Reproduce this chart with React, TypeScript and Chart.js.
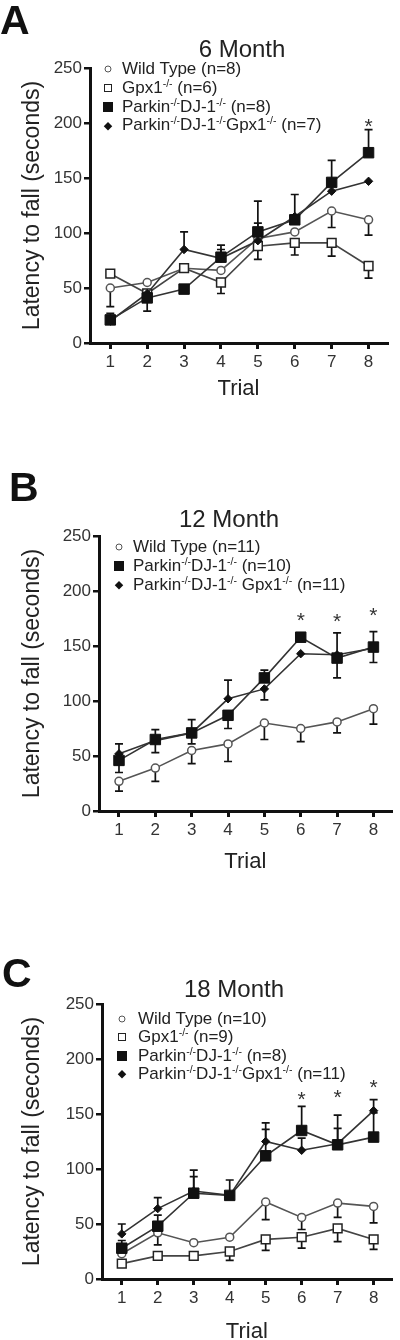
import React, { useEffect, useRef } from "react";
import { Chart, registerables } from "chart.js";

Chart.register(...registerables);

const FONT = "'Liberation Sans', Arial, Helvetica, sans-serif";

// ---------- shared axes ----------
const trials = [1, 2, 3, 4, 5, 6, 7, 8];
const yTickValues = [0, 50, 100, 150, 200, 250];

// ---------- Panel A: 6 Month ----------
const a_labels = [
  "Wild Type (n=8)",
  "Gpx1^-/-^ (n=6)",
  "Parkin^-/-^DJ-1^-/-^ (n=8)",
  "Parkin^-/-^DJ-1^-/-^Gpx1^-/-^ (n=7)",
];
const a_wt = [50, 55, 68, 66, 95, 101, 120, 112];
const a_wtErr = [-17, 0, 0, 0, 14, 0, -15, -14];
const a_gpx = [63, 45, 68, 55, 88, 91, 91, 70];
const a_gpxErr = [0, 0, 0, -10, -12, -11, -12, -11];
const a_pd = [21, 41, 49, 78, 101, 112, 146, 173];
const a_pdErr = [6, -12, 0, 11, 28, 23, 20, 21];
const a_pdg = [20, 45, 85, 77, 93, 115, 138, 147];
const a_pdgErr = [5, 0, 16, 8, 0, 0, 0, 0];
const a_stars = [null, null, null, null, null, null, null, 201];

// ---------- Panel B: 12 Month ----------
const b_labels = [
  "Wild Type (n=11)",
  "Parkin^-/-^DJ-1^-/-^ (n=10)",
  "Parkin^-/-^DJ-1^-/-^ Gpx1^-/-^ (n=11)",
];
const b_wt = [27, 39, 55, 61, 80, 75, 81, 93];
const b_wtErr = [-9, -12, -12, -16, -15, -12, -10, -14];
const b_pd = [46, 65, 71, 87, 121, 158, 139, 149];
const b_pdErr = [-11, -12, -10, -12, 7, 0, -18, -14];
const b_pdg = [52, 64, 71, 102, 111, 143, 142, 148];
const b_pdgErr = [9, 10, 12, 17, -10, 0, 20, 15];
const b_stars = [null, null, null, null, null, 177, 176, 182];

// ---------- Panel C: 18 Month ----------
const c_labels = [
  "Wild Type (n=10)",
  "Gpx1^-/-^ (n=9)",
  "Parkin^-/-^DJ-1^-/-^ (n=8)",
  "Parkin^-/-^DJ-1^-/-^Gpx1^-/-^ (n=11)",
];
const c_wt = [23, 42, 33, 38, 70, 56, 69, 66];
const c_wtErr = [0, -11, 0, 0, -16, -11, -13, -15];
const c_gpx = [14, 21, 21, 25, 36, 38, 46, 36];
const c_gpxErr = [0, 0, 0, -8, -10, -10, -12, -9];
const c_pd = [28, 48, 78, 76, 112, 135, 122, 129];
const c_pdErr = [7, 10, 15, 0, 24, 22, 27, 22];
const c_pdg = [41, 64, 80, 76, 125, 117, 123, 153];
const c_pdgErr = [9, 10, 19, 14, 17, 11, 14, 10];
const c_stars = [null, null, null, null, null, 167, 169, 178];

type Kind = "wt" | "gpx" | "pd" | "pdg";
type Series = { label: string; values: number[]; errs: number[]; kind: Kind };

const STYLES: Record<Kind, any> = {
  wt: {
    pointStyle: "circle",
    pointRadius: 4,
    pointBackgroundColor: "#ffffff",
    pointBorderColor: "#555555",
    pointBorderWidth: 1.5,
    borderColor: "#555555",
    order: 3,
  },
  gpx: {
    pointStyle: "rect",
    pointRadius: 6.2,
    pointBackgroundColor: "#ffffff",
    pointBorderColor: "#222222",
    pointBorderWidth: 1.5,
    borderColor: "#444444",
    order: 2,
  },
  pd: {
    pointStyle: "rect",
    pointRadius: 7.4,
    pointBackgroundColor: "#111111",
    pointBorderColor: "#111111",
    pointBorderWidth: 1,
    borderColor: "#333333",
    order: 0,
  },
  pdg: {
    pointStyle: "rectRot",
    pointRadius: 4.2,
    pointBackgroundColor: "#111111",
    pointBorderColor: "#111111",
    pointBorderWidth: 1,
    borderColor: "#333333",
    order: 1,
  },
};

type PanelCfg = {
  letter: string;
  title: string;
  series: Series[];
  stars: (number | null)[];
  canvasTop: number;
  canvasH: number;
  areaTop: number;
  areaBottom: number;
  areaLeft: number;
  areaRight: number;
  xTitleCenter: number;
  letterLeft: number;
  letterCapTop: number;
  titleCx: number;
  titleCapTop: number;
  legendTop: number;
  legendRowH: number;
  legendMarkerX: number;
  legendTextX: number;
};

const panels: PanelCfg[] = [
  {
    letter: "A",
    title: "6 Month",
    series: [
      { label: a_labels[0], values: a_wt, errs: a_wtErr, kind: "wt" },
      { label: a_labels[1], values: a_gpx, errs: a_gpxErr, kind: "gpx" },
      { label: a_labels[2], values: a_pd, errs: a_pdErr, kind: "pd" },
      { label: a_labels[3], values: a_pdg, errs: a_pdgErr, kind: "pdg" },
    ],
    stars: a_stars,
    canvasTop: 0,
    canvasH: 450,
    areaTop: 68,
    areaBottom: 343,
    areaLeft: 90,
    areaRight: 387,
    xTitleCenter: 389,
    letterLeft: 0,
    letterCapTop: 5,
    titleCx: 242,
    titleCapTop: 40,
    legendTop: 60,
    legendRowH: 18.8,
    legendMarkerX: 108,
    legendTextX: 122,
  },
  {
    letter: "B",
    title: "12 Month",
    series: [
      { label: b_labels[0], values: b_wt, errs: b_wtErr, kind: "wt" },
      { label: b_labels[1], values: b_pd, errs: b_pdErr, kind: "pd" },
      { label: b_labels[2], values: b_pdg, errs: b_pdgErr, kind: "pdg" },
    ],
    stars: b_stars,
    canvasTop: 450,
    canvasH: 450,
    areaTop: 536,
    areaBottom: 811,
    areaLeft: 99,
    areaRight: 397,
    xTitleCenter: 862,
    letterLeft: 9,
    letterCapTop: 472,
    titleCx: 229,
    titleCapTop: 510,
    legendTop: 537,
    legendRowH: 19,
    legendMarkerX: 119,
    legendTextX: 133,
  },
  {
    letter: "C",
    title: "18 Month",
    series: [
      { label: c_labels[0], values: c_wt, errs: c_wtErr, kind: "wt" },
      { label: c_labels[1], values: c_gpx, errs: c_gpxErr, kind: "gpx" },
      { label: c_labels[2], values: c_pd, errs: c_pdErr, kind: "pd" },
      { label: c_labels[3], values: c_pdg, errs: c_pdgErr, kind: "pdg" },
    ],
    stars: c_stars,
    canvasTop: 900,
    canvasH: 460,
    areaTop: 1004,
    areaBottom: 1279,
    areaLeft: 102,
    areaRight: 400,
    xTitleCenter: 1332,
    letterLeft: 2,
    letterCapTop: 958,
    titleCx: 234,
    titleCapTop: 980,
    legendTop: 1010,
    legendRowH: 18.3,
    legendMarkerX: 122,
    legendTextX: 138,
  },
];

const errorBarPlugin = {
  id: "errbars",
  beforeDatasetsDraw(chart: any) {
    const { ctx } = chart;
    const xs = chart.scales.x;
    const ys = chart.scales.y;
    chart.data.datasets.forEach((ds: any) => {
      const errs: number[] = ds.errs || [];
      ctx.save();
      ctx.strokeStyle = "#111111";
      ctx.lineWidth = 1.7;
      ds.data.forEach((p: any, i: number) => {
        const e = errs[i];
        if (!e) return;
        const px = xs.getPixelForValue(p.x);
        const py0 = ys.getPixelForValue(p.y);
        const py1 = ys.getPixelForValue(p.y + e);
        ctx.beginPath();
        ctx.moveTo(px, py0);
        ctx.lineTo(px, py1);
        ctx.moveTo(px - 4, py1);
        ctx.lineTo(px + 4, py1);
        ctx.stroke();
      });
      ctx.restore();
    });
  },
  afterDatasetsDraw(chart: any, _args: any, opts: any) {
    const stars: (number | null)[] = (opts && opts.stars) || [];
    const { ctx } = chart;
    const xs = chart.scales.x;
    const ys = chart.scales.y;
    ctx.save();
    ctx.fillStyle = "#333333";
    ctx.font = `21px ${FONT}`;
    ctx.textAlign = "center";
    ctx.textBaseline = "middle";
    stars.forEach((v, i) => {
      if (v == null) return;
      ctx.fillText("*", xs.getPixelForValue(trials[i]), ys.getPixelForValue(v) + 5);
    });
    ctx.restore();
  },
};

function renderLabel(label: string) {
  const parts = label.split("^");
  return parts.map((p, i) =>
    i % 2 === 1 ? (
      <span
        key={i}
        style={{ fontSize: 10.5, position: "relative", top: -6, lineHeight: 0 }}
      >
        {p}
      </span>
    ) : (
      <span key={i}>{p}</span>
    )
  );
}

function Marker({ kind }: { kind: Kind }) {
  let st: React.CSSProperties = {};
  if (kind === "wt")
    st = { width: 5, height: 5, border: "1.5px solid #555", borderRadius: "50%", background: "#fff" };
  if (kind === "gpx") st = { width: 6, height: 6, border: "1.5px solid #222", background: "#fff" };
  if (kind === "pd") st = { width: 10, height: 10, background: "#111" };
  if (kind === "pdg") st = { width: 5.5, height: 5.5, background: "#111", transform: "rotate(45deg)" };
  return <span style={{ display: "block", ...st }} />;
}

function Panel({ cfg }: { cfg: PanelCfg }) {
  const ref = useRef<HTMLCanvasElement | null>(null);

  useEffect(() => {
    if (!ref.current) return;
    const areaTopRel = cfg.areaTop - cfg.canvasTop;
    const areaBottomRel = cfg.areaBottom - cfg.canvasTop;
    const xH = cfg.xTitleCenter + 14 - cfg.areaBottom;
    const padBottom = cfg.canvasH - areaBottomRel - xH;

    const datasets = cfg.series.map((s) => ({
      label: s.label.replace(/\^/g, ""),
      data: s.values.map((v, i) => ({ x: trials[i], y: v })),
      errs: s.errs,
      borderWidth: 1.6,
      showLine: true,
      fill: false,
      tension: 0,
      ...STYLES[s.kind],
    }));

    const chart = new Chart(ref.current, {
      type: "line",
      data: { datasets },
      plugins: [errorBarPlugin],
      options: {
        responsive: false,
        animation: false,
        events: [],
        layout: {
          padding: { top: areaTopRel, bottom: padBottom, left: 0, right: 400 - cfg.areaRight },
        },
        plugins: {
          legend: { display: false },
          tooltip: { enabled: false },
          title: { display: false },
          errbars: { stars: cfg.stars },
        } as any,
        scales: {
          x: {
            type: "linear",
            min: 0.45,
            max: 8.5,
            afterBuildTicks: (s: any) => {
              s.ticks = trials.map((v) => ({ value: v }));
            },
            afterFit: (s: any) => {
              s.height = xH;
            },
            grid: {
              display: true,
              drawOnChartArea: false,
              drawTicks: true,
              tickLength: 6,
              lineWidth: 3,
              color: "#111111",
            },
            border: { display: true, width: 3, color: "#111111" },
            ticks: {
              font: { family: FONT, size: 17 },
              color: "#333333",
              padding: 3,
              autoSkip: false,
              maxRotation: 0,
              callback: (v: any) => String(v),
            },
            title: {
              display: true,
              text: "Trial",
              font: { family: FONT, size: 22 },
              color: "#222222",
              padding: { top: 0, bottom: 1 },
            },
          },
          y: {
            type: "linear",
            min: 0,
            max: 250,
            afterBuildTicks: (s: any) => {
              s.ticks = yTickValues.map((v) => ({ value: v }));
            },
            afterFit: (s: any) => {
              s.width = cfg.areaLeft;
            },
            grid: {
              display: true,
              drawOnChartArea: false,
              drawTicks: true,
              tickLength: 6,
              lineWidth: 2.5,
              color: "#111111",
            },
            border: { display: true, width: 3, color: "#111111" },
            ticks: {
              font: { family: FONT, size: 17 },
              color: "#333333",
              padding: 2,
              callback: (v: any) => String(v),
            },
            title: {
              display: true,
              text: "Latency to fall (seconds)",
              font: { family: FONT, size: 23 },
              color: "#222222",
              padding: { top: 19, bottom: 0 },
            },
          },
        },
      } as any,
    });
    return () => chart.destroy();
  }, [cfg]);

  return (
    <>
      <canvas
        ref={ref}
        width={400}
        height={cfg.canvasH}
        style={{ position: "absolute", left: 0, top: cfg.canvasTop, width: 400, height: cfg.canvasH }}
      />
      <div
        style={{
          position: "absolute",
          left: cfg.letterLeft,
          top: cfg.letterCapTop - 5,
          fontSize: 41,
          lineHeight: "41px",
          fontWeight: "bold",
          color: "#111",
        }}
      >
        {cfg.letter}
      </div>
      <div
        style={{
          position: "absolute",
          left: cfg.titleCx - 100,
          width: 200,
          textAlign: "center",
          top: cfg.titleCapTop - 3,
          fontSize: 24,
          lineHeight: "24px",
          color: "#222",
        }}
      >
        {cfg.title}
      </div>
      {cfg.series.map((s, i) => (
        <div
          key={i}
          style={{
            position: "absolute",
            left: 0,
            top: cfg.legendTop + i * cfg.legendRowH,
            width: 400,
            height: cfg.legendRowH,
            fontSize: 17,
            lineHeight: cfg.legendRowH + "px",
            color: "#222",
            whiteSpace: "nowrap",
          }}
        >
          <span
            style={{
              position: "absolute",
              left: cfg.legendMarkerX,
              top: cfg.legendRowH / 2,
              transform: "translate(-50%, -50%)",
            }}
          >
            <Marker kind={s.kind} />
          </span>
          <span style={{ position: "absolute", left: cfg.legendTextX, top: 0 }}>
            {renderLabel(s.label)}
          </span>
        </div>
      ))}
    </>
  );
}

export default function App() {
  useEffect(() => {
    document.body.style.margin = "0";
  }, []);
  return (
    <div
      style={{
        position: "relative",
        width: 400,
        height: 1340,
        overflow: "hidden",
        background: "#ffffff",
        fontFamily: FONT,
      }}
    >
      {panels.map((p) => (
        <Panel key={p.letter} cfg={p} />
      ))}
    </div>
  );
}
